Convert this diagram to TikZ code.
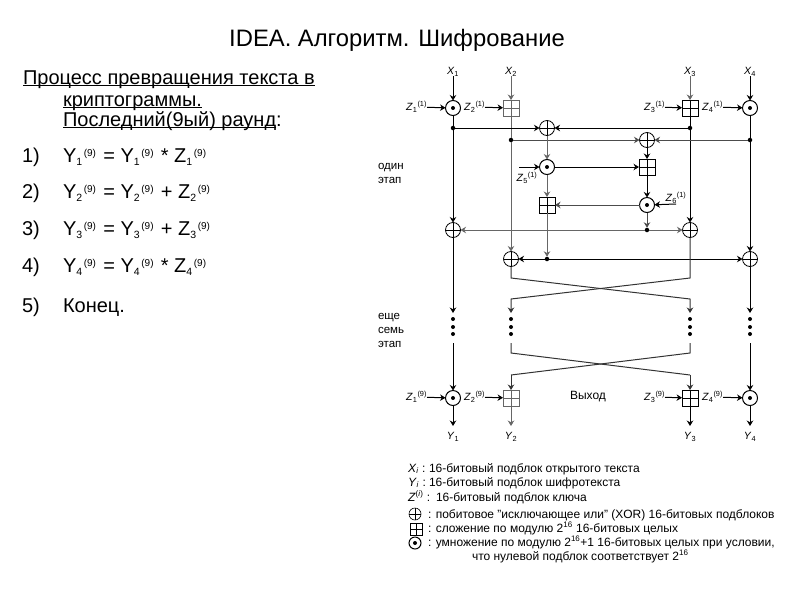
\documentclass[tikz,border=0pt]{standalone}
\usepackage{fontspec}
\setmainfont{Liberation Sans}
\usetikzlibrary{arrows.meta}
\newcommand{\keyz}[3]{#1\raisebox{-3pt}{\fontsize{10.5}{10}\selectfont #2}\raisebox{5.5pt}{\fontsize{10}{10}\selectfont\,(#3)\,}}
\newcommand{\ulined}[1]{\setbox0=\hbox{#1}\rlap{\rule[-2.2pt]{\wd0}{0.9pt}}\box0}

\begin{document}
\begin{tikzpicture}[
    x=1pt, y=-1pt,
    every node/.style={inner sep=0pt, outer sep=0pt},
    lefttext/.style={anchor=base west, font=\fontsize{20}{24}\selectfont},
    legendtext/.style={anchor=base west, font=\fontsize{12}{14}\selectfont},
    keytext/.style={font=\fontsize{10.5}{12}\selectfont},
    sidetext/.style={anchor=base west, font=\fontsize{11.5}{14}\selectfont},
    opmul/.style={draw, circle, minimum size=15pt, line width=1pt, fill=white,
                  path picture={\fill[black] (path picture bounding box.center) circle (2pt);}},
    opxor/.style={draw, circle, minimum size=15pt, line width=0.8pt, fill=white,
                  path picture={
                    \draw (path picture bounding box.north) -- (path picture bounding box.south);
                    \draw (path picture bounding box.west) -- (path picture bounding box.east);}},
    opadd/.style={draw, rectangle, minimum size=16pt, line width=0.8pt, fill=white,
                  path picture={
                    \draw (path picture bounding box.north) -- (path picture bounding box.south);
                    \draw (path picture bounding box.west) -- (path picture bounding box.east);}},
    junct/.style={circle, fill=black, minimum size=4.5pt},
    vdot/.style={circle, fill=black, minimum size=4pt},
    wire/.style={line width=1pt},
    wirel/.style={line width=0.8pt, black!60},
    >={Stealth[length=5.5pt,width=6.5pt]},
  ]
  \useasboundingbox (0,0) rectangle (794,595);

  % title and left column
  \node[font=\fontsize{23.8}{28}\selectfont] (title) at (397,40) {IDEA. Алгоритм. Шифрование};
  \node[lefttext] (intro1) at (23,84)  {\ulined{Процесс превращения текста в}};
  \node[lefttext] (intro2) at (63,106) {\ulined{криптограммы.}};
  \node[lefttext] (intro3) at (63,126) {\ulined{Последний(9ый) раунд}:};
  \node[lefttext] (num1) at (22,162) {1)};
  \node[lefttext] (num2) at (22,198) {2)};
  \node[lefttext] (num3) at (22,235) {3)};
  \node[lefttext] (num4) at (22,272) {4)};
  \node[lefttext] (num5) at (22,312) {5)};
  \node[lefttext] (step1) at (63,162) {\keyz{Y}{1}{9} = \keyz{Y}{1}{9} * \keyz{Z}{1}{9}};
  \node[lefttext] (step2) at (63,198) {\keyz{Y}{2}{9} = \keyz{Y}{2}{9} + \keyz{Z}{2}{9}};
  \node[lefttext] (step3) at (63,235) {\keyz{Y}{3}{9} = \keyz{Y}{3}{9} + \keyz{Z}{3}{9}};
  \node[lefttext] (step4) at (63,272) {\keyz{Y}{4}{9} = \keyz{Y}{4}{9} * \keyz{Z}{4}{9}};
  \node[lefttext] (step5) at (63,312) {Конец.};

  % side notes
  \node[sidetext] (one1) at (378,169) {один};
  \node[sidetext] (one2) at (378,183) {этап};
  \node[sidetext] (more1) at (378,319) {еще};
  \node[sidetext] (more2) at (378,333) {семь};
  \node[sidetext] (more3) at (378,347) {этап};

  % first round
  \node[keytext] (X1) at (453,72) {\textit{X}\textsubscript{1}};
  \node[keytext] (X2) at (511,72) {\textit{X}\textsubscript{2}};
  \node[keytext] (X3) at (690,72) {\textit{X}\textsubscript{3}};
  \node[keytext] (X4) at (750,72) {\textit{X}\textsubscript{4}};

  \node[opmul] (op1) at (453,108) {};
  \node[opadd, draw=black!60] (op2) at (511,108) {};
  \node[opadd] (op3) at (690,108) {};
  \node[opmul] (op4) at (750,108) {};
  \node[opxor] (xa) at (547,128) {};
  \node[opxor] (xb) at (647,140) {};
  \node[opmul] (mul5) at (547,167) {};
  \node[opadd] (add6) at (647,167) {};
  \node[opadd] (add7) at (547,205) {};
  \node[opmul] (mul8) at (647,205) {};
  \node[opxor] (x9) at (453,230) {};
  \node[opxor] (x10) at (690,230) {};
  \node[opxor] (x11) at (511,259) {};
  \node[opxor] (x12) at (750,259) {};

  \node[junct] (j1) at (453,128) {};
  \node[junct] (j2) at (690,128) {};
  \node[junct] (j3) at (511,140) {};
  \node[junct] (j4) at (750,140) {};
  \node[junct] (j5) at (647,230) {};
  \node[junct] (j6) at (547,259) {};

  \node[keytext, anchor=east] (Z1) at (427,107) {\textit{Z}\textsubscript{1}\textsuperscript{(1)}};
  \node[keytext, anchor=east] (Z2) at (485,107) {\textit{Z}\textsubscript{2}\textsuperscript{(1)}};
  \node[keytext, anchor=east] (Z3) at (665,107) {\textit{Z}\textsubscript{3}\textsuperscript{(1)}};
  \node[keytext, anchor=east] (Z4) at (723,107) {\textit{Z}\textsubscript{4}\textsuperscript{(1)}};
  \node[keytext] (Z5) at (527,178) {\textit{Z}\textsubscript{5}\textsuperscript{(1)}};
  \node[keytext] (Z6) at (676,198) {\textit{Z}\textsubscript{6}\textsuperscript{(1)}};
  \coordinate (z5in) at (519,167);
  \coordinate (z6in) at (676,204);

  \draw[->, wire]  (X1) -- (op1);
  \draw[->, wirel] (X2) -- (op2);
  \draw[->, wirel] (X3) -- (op3);
  \draw[->, wire]  (X4) -- (op4);
  \draw[->, wire]  (Z1) -- (op1);
  \draw[->, wire]  (Z2) -- (op2);
  \draw[->, wire]  (Z3) -- (op3);
  \draw[->, wire]  (Z4) -- (op4);
  \draw[->, wire]  (z5in) -- (mul5);
  \draw[->, wire]  (z6in) -- (mul8);

  \draw[wire] (op1) -- (j1);
  \draw[->, wire] (j1) -- (x9);
  \draw[wirel] (op2) -- (j3);
  \draw[->, wirel] (j3) -- (x11);
  \draw[wire] (op3) -- (j2);
  \draw[->, wire] (j2) -- (x10);
  \draw[wire] (op4) -- (j4);
  \draw[->, wire] (j4) -- (x12);

  \draw[->, wire] (j1) -- (xa);
  \draw[->, wire] (j2) -- (xa);
  \draw[->, wire, black!70] (j3) -- (xb);
  \draw[->, wire, black!70] (j4) -- (xb);
  \draw[->, wirel] (xa) -- (mul5);
  \draw[->, wire] (xb) -- (add6);
  \draw[->, wire] (mul5) -- (add6);
  \draw[->, wire] (add6) -- (mul8);
  \draw[->, wirel] (mul5) -- (add7);
  \draw[->, wire, black!70] (mul8) -- (add7);
  \draw[->, wirel] (add7) -- (j6);
  \draw[->, wire, black!70] (mul8) -- (j5);
  \draw[->, wirel] (j5) -- (x9);
  \draw[->, wirel] (j5) -- (x10);
  \draw[->, wire] (j6) -- (x11);
  \draw[->, wire] (j6) -- (x12);

  % first swap
  \coordinate (sw2a) at (511,278);
  \coordinate (sw3a) at (690,278);
  \coordinate (sw2b) at (511,299);
  \coordinate (sw3b) at (690,299);

  % dots between the rounds
  \foreach \name/\x in {a/453, b/511, c/690, d/750} {
    \node[vdot] (\name1) at (\x,319) {};
    \node[vdot] (\name2) at (\x,327) {};
    \node[vdot] (\name3) at (\x,334) {};
    \coordinate (\name in) at (\x,313);
    \coordinate (\name out) at (\x,343);
  }

  \draw[->, wire] (x9) -- (ain);
  \draw[->, wire] (x12) -- (din);
  \draw[->, wire, black!80] (x11) -- (sw2a) -- (sw3b) -- (cin);
  \draw[->, wire, black!80] (x10) -- (sw3a) -- (sw2b) -- (bin);

  % last round
  \node[opmul] (opa) at (453,398) {};
  \node[opadd, draw=black!60] (opb) at (511,398) {};
  \node[opadd, line width=1pt] (opc) at (690,398) {};
  \node[opmul] (opd) at (750,398) {};
  \coordinate (sw2c) at (511,353);
  \coordinate (sw3c) at (690,353);
  \coordinate (sw2d) at (511,375);
  \coordinate (sw3d) at (690,375);

  \draw[->, wire] (aout) -- (opa);
  \draw[->, wire] (dout) -- (opd);
  \draw[wire, black!80] (bout) -- (sw2c) -- (sw3d);
  \draw[->, wire, black!80] (sw3d) -- (opc);
  \draw[wire, black!80] (cout) -- (sw3c) -- (sw2d);
  \draw[->, wire, black!80] (sw2d) -- (opb);

  \node[keytext, anchor=east] (Za) at (427,397) {\textit{Z}\textsubscript{1}\textsuperscript{(9)}};
  \node[keytext, anchor=east] (Zb) at (485,397) {\textit{Z}\textsubscript{2}\textsuperscript{(9)}};
  \node[keytext, anchor=east] (Zc) at (665,397) {\textit{Z}\textsubscript{3}\textsuperscript{(9)}};
  \node[keytext, anchor=east] (Zd) at (723,397) {\textit{Z}\textsubscript{4}\textsuperscript{(9)}};
  \node[keytext, font=\fontsize{12}{14}\selectfont] (exit) at (588,397) {Выход};
  \draw[->, wire] (Za) -- (opa);
  \draw[->, wire] (Zb) -- (opb);
  \draw[->, wire] (Zc) -- (opc);
  \draw[->, wire] (Zd) -- (opd);

  \node[keytext] (Y1) at (453,437) {\textit{Y}\textsubscript{1}};
  \node[keytext] (Y2) at (511,437) {\textit{Y}\textsubscript{2}};
  \node[keytext] (Y3) at (690,437) {\textit{Y}\textsubscript{3}};
  \node[keytext] (Y4) at (750,437) {\textit{Y}\textsubscript{4}};
  \coordinate (ya) at (453,426);
  \coordinate (yb) at (511,426);
  \coordinate (yc) at (690,426);
  \coordinate (yd) at (750,426);
  \draw[->, wire] (opa) -- (ya);
  \draw[->, wirel] (opb) -- (yb);
  \draw[->, wire] (opc) -- (yc);
  \draw[->, wire] (opd) -- (yd);

  % legend
  \node[legendtext] (symX) at (408,472) {\textit{X}\textsubscript{\textit{i}} :};
  \node[legendtext] (symY) at (408,486) {\textit{Y}\textsubscript{\textit{i}} :};
  \node[legendtext] (symZ) at (408,501) {\textit{Z}\textsuperscript{(\textit{i})} :};
  \node[legendtext] (leg1) at (429,472) {16-битовый подблок открытого текста};
  \node[legendtext] (leg2) at (429,486) {16-битовый подблок шифротекста};
  \node[legendtext] (leg3) at (436,501) {16-битовый подблок ключа};
  \node[opxor, minimum size=12pt, line width=0.6pt] (symx) at (415,514) {};
  \node[opadd, minimum size=12pt, line width=0.6pt] (syma) at (416,529) {};
  \node[opmul, minimum size=12pt] (symm) at (415,543) {};
  \node[legendtext] (leg4) at (428,518) {: побитовое "исключающее или" (XOR) 16-битовых подблоков};
  \node[legendtext] (leg5) at (428,532) {: сложение по модулю 2\textsuperscript{16} 16-битовых целых};
  \node[legendtext] (leg6) at (428,546) {: умножение по модулю 2\textsuperscript{16}+1 16-битовых целых при условии,};
  \node[legendtext] (leg7) at (472,560) {что нулевой подблок соответствует 2\textsuperscript{16}};
\end{tikzpicture}
\end{document}
